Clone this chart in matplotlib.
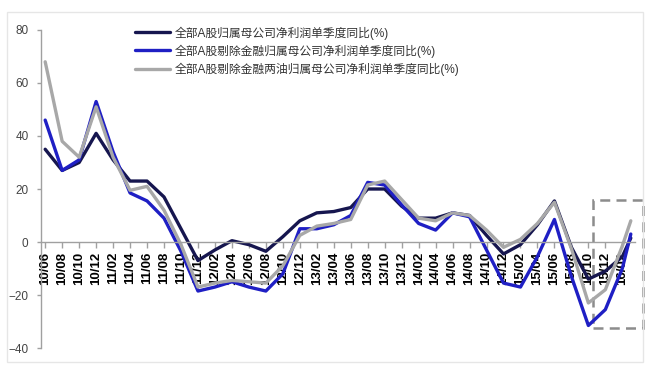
import matplotlib.pyplot as plt
from matplotlib.patches import Rectangle

plt.rcParams['font.family'] = ['Liberation Sans', 'Noto Sans CJK SC', 'DejaVu Sans']

# 数据 (单季度同比, %)
dates = ["10/06", "10/08", "10/10", "10/12",
         "11/02", "11/04", "11/06", "11/08", "11/10", "11/12",
         "12/02", "12/04", "12/06", "12/08", "12/10", "12/12",
         "13/02", "13/04", "13/06", "13/08", "13/10", "13/12",
         "14/02", "14/04", "14/06", "14/08", "14/10", "14/12",
         "15/02", "15/04", "15/06", "15/08", "15/10", "15/12",
         "16/02", "16/03"]
tick_labels = dates[:-1]

all_a = [35, 27, 30, 41, 31, 23, 23, 17, 5, -7, -3, 0.5, -1, -3.5, 2, 8,
         11, 11.5, 13, 20, 20, 13.5, 9, 9, 11, 10, 2.5, -4.5, -1, 6.5, 15.5,
         -2, -14, -11, -5.5, 1.5]
ex_fin = [46, 27, 31, 53, 34, 18.5, 15.5, 9, -3.5, -18.5, -17, -15, -17, -18.5,
          -12, 5, 5, 6.5, 10, 22.5, 21.5, 14, 7, 4.5, 11, 9.5, -3, -15.5, -17,
          -5.5, 8.5, -13, -31.5, -25.5, -10, 3]
ex_fin_oil = [68, 38, 32, 51, 32, 19.5, 21, 12, -1, -17, -15.5, -14.5, -15,
              -15.5, -9, 2.5, 6, 7, 8.5, 21.5, 23, 16, 9, 8, 11, 10, 4.5, -2, 1,
              7, 15, -2.5, -23, -18, -1.5, 8]

names = ["全部A股归属母公司净利润单季度同比(%)",
         "全部A股剔除金融归属母公司净利润单季度同比(%)",
         "全部A股剔除金融两油归属母公司净利润单季度同比(%)"]
colors = ["#16164f", "#1f1fc4", "#a8a8a8"]

# 月份序号
x = [(int(d[:2]) - 10) * 12 + int(d[3:]) - 6 for d in dates]

fig = plt.figure(figsize=(6.5, 3.74), dpi=100)
ax = fig.add_axes([0.063, 0.0695, 0.914, 0.8503])
ax.set_axisbelow(True)  # 线画在刻度标签上面

for vals, name, c in zip([all_a, ex_fin, ex_fin_oil], names, colors):
    ax.plot(x, vals, color=c, lw=2.4, label=name, solid_capstyle='round',
            solid_joinstyle='round')

ax.spines['top'].set_visible(False)
ax.spines['right'].set_visible(False)
ax.spines['bottom'].set_position(('data', 0))
for s in ['left', 'bottom']:
    ax.spines[s].set_color('#a0a0a0')
    ax.spines[s].set_linewidth(1.0)

ax.set_xlim(-0.5, 69.5)
ax.set_ylim(-40, 80)
ax.set_yticks(range(-40, 81, 20))
ax.set_xticks(x[:-1])
ax.set_xticklabels(tick_labels, rotation=90, fontsize=9.5, fontweight='bold',
                   va='top', ha='center')
ax.tick_params(axis='x', length=4, width=1, color='#a0a0a0', pad=3)
ax.tick_params(axis='y', length=3, width=1, color='#a0a0a0', labelsize=8.5,
               labelcolor='#444444', pad=6)

# 虚线框
ax.add_patch(Rectangle((64.5, -32.5), 5.9, 48.3, fill=False, ls=(0, (4, 2.5)),
                       lw=1.8, edgecolor='#8c8c8c', clip_on=False))

ax.legend(loc='upper left', bbox_to_anchor=(0.14, 1.045), frameon=False,
          fontsize=8.5, handlelength=3.0, handletextpad=0.4, labelspacing=0.4,
          labelcolor='#333333')

# 外框
fig.patches.append(Rectangle((0.011, 0.032), 0.978, 0.935, fill=False,
                             edgecolor='#e6e6e6', lw=1, transform=fig.transFigure))

fig.savefig("out.png", dpi=100)
